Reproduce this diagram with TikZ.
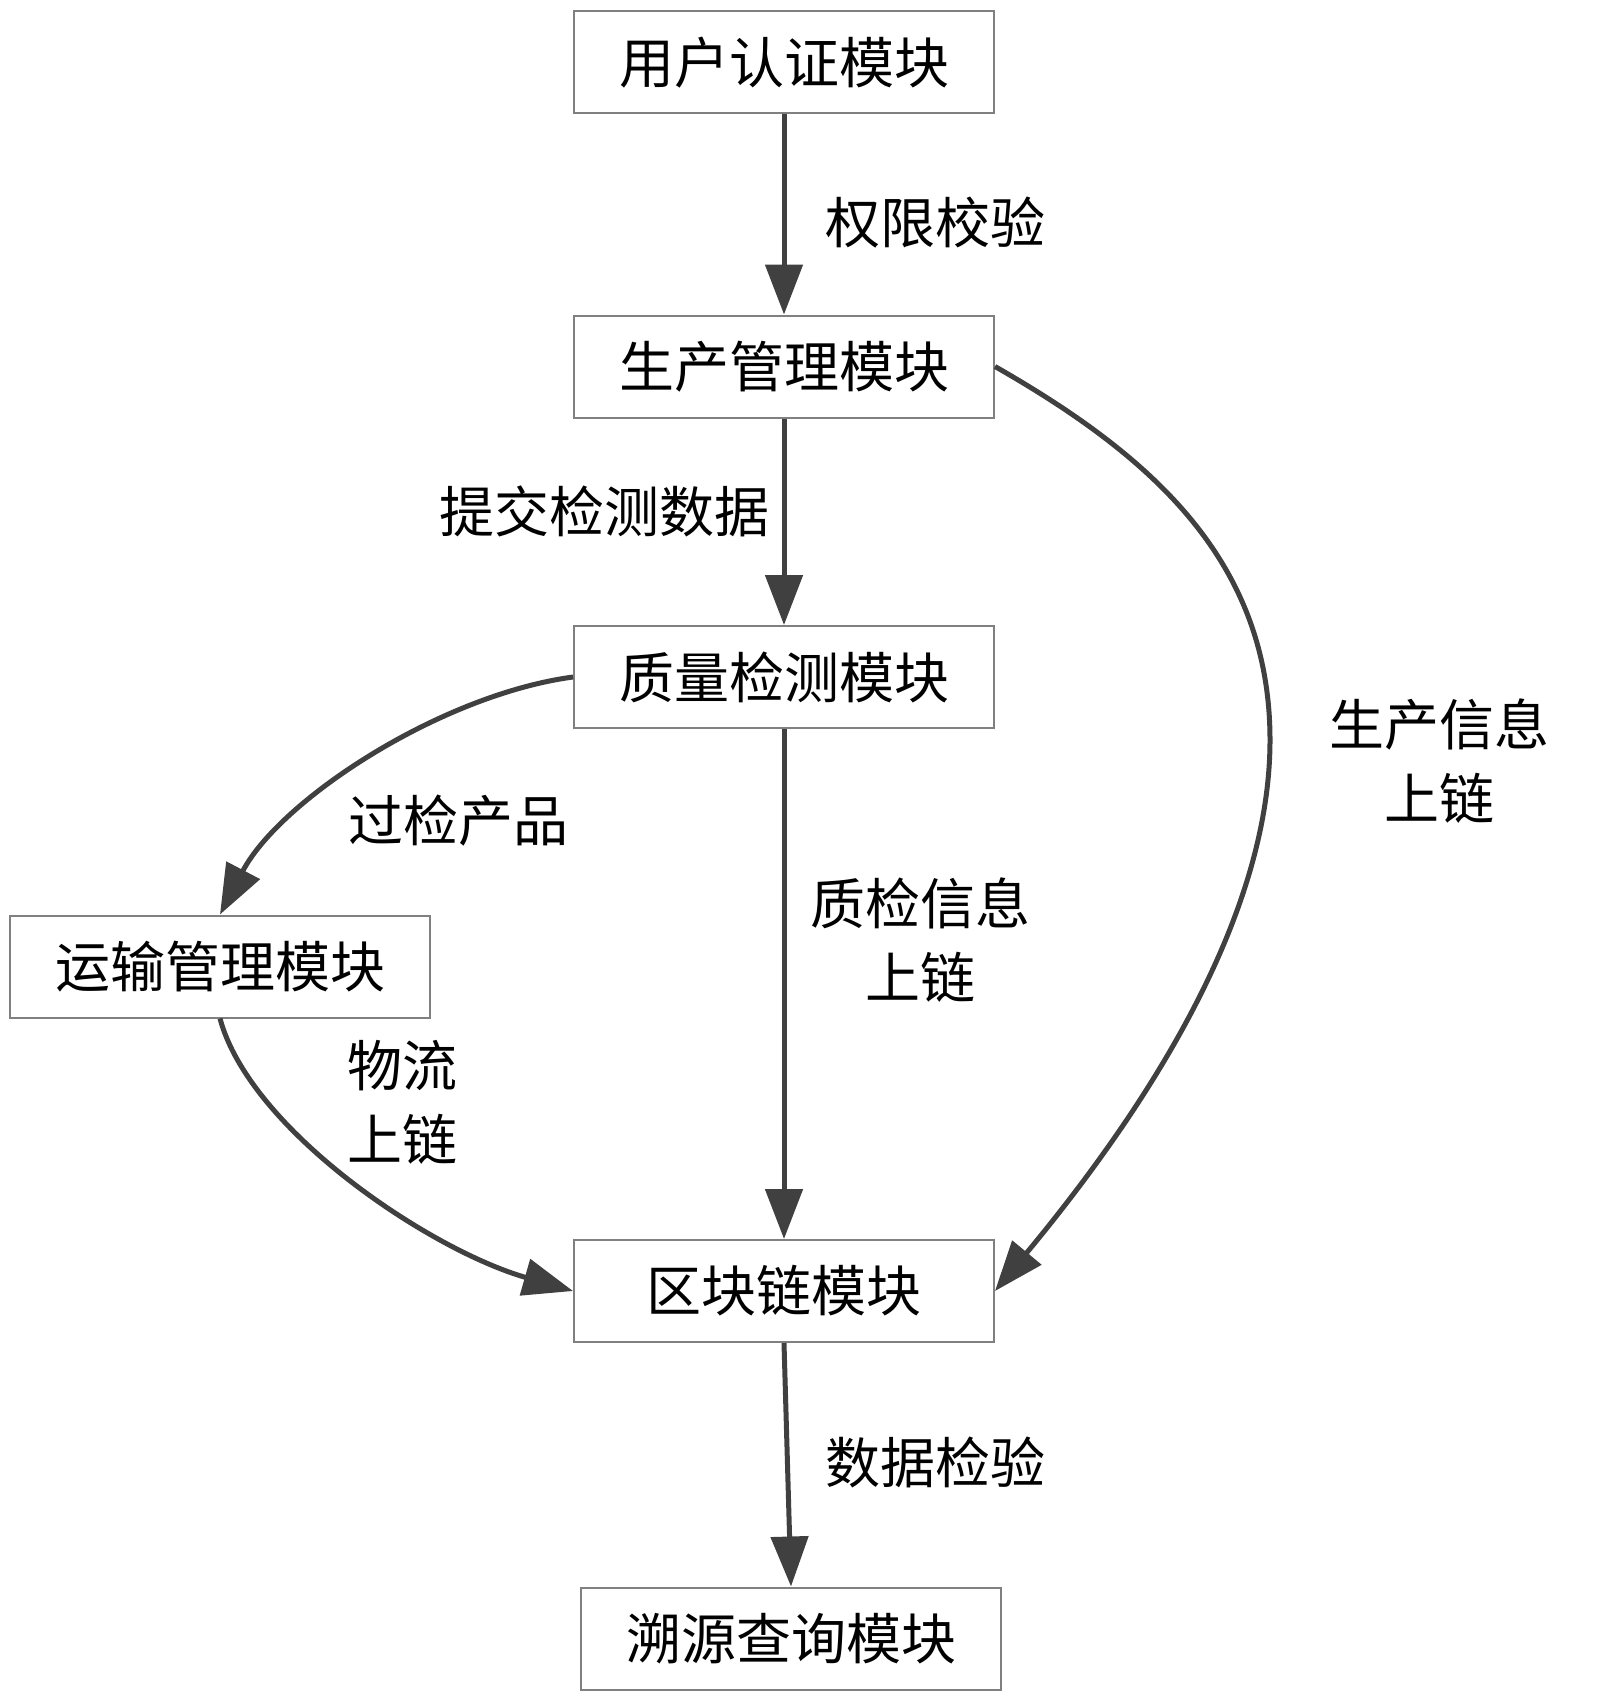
\documentclass[tikz,border=0pt]{standalone}
\usepackage{fontspec}
\newfontfamily\cjk{Noto Sans CJK SC}
\usetikzlibrary{arrows.meta}
\definecolor{linec}{HTML}{404040}
\definecolor{boxc}{HTML}{808080}
\tikzset{
  modbox/.style={draw=boxc, line width=2pt, fill=white, minimum width=420pt, minimum height=102pt, inner sep=0pt, font=\cjk\fontsize{55}{74}\selectfont},
  lbl/.style={inner sep=0pt, align=center, font=\cjk\fontsize{55}{74}\selectfont},
  conn/.style={draw=linec, line width=5pt, -{Triangle[length=50pt,width=37pt]}}
}
\begin{document}
\begin{tikzpicture}[x=1pt,y=-1pt]
\useasboundingbox (0,0) rectangle (1600,1704);
\node[modbox] (b1) at (784,62.5) {用户认证模块};
\node[modbox] (b2) at (784,366.5) {生产管理模块};
\node[modbox] (b3) at (784,677) {质量检测模块};
\node[modbox] (b4) at (220,966.5) {运输管理模块};
\node[modbox] (b5) at (784,1291) {区块链模块};
\node[modbox] (b6) at (791,1638.5) {溯源查询模块};

\coordinate (pr) at (1270,740);

\draw[conn] (b1.south) -- (b2.north);
\draw[conn] (b2.south) -- (b3.north);
\draw[conn] (b3.south) -- (b5.north);
\draw[conn] (b5.south) -- (b6.north);
\draw[conn] (b2.east) .. controls (1150,455) and (1270,560) .. (pr) .. controls (1270,900) and (1170,1080) .. (b5.east);
\draw[conn] (b3.west) .. controls (440,695) and (280,800) .. (b4.north);
\draw[conn] (b4.south) .. controls (250,1130) and (430,1250) .. (b5.west);

\node[lbl] (l1) at (935,223) {权限校验};
\node[lbl] (l2) at (604,511) {提交检测数据};
\node[lbl] (l3) at (458,821) {过检产品};
\node[lbl] (l4) at (920,940) {质检信息\\上链};
\node[lbl] (l5) at (1439,761) {生产信息\\上链};
\node[lbl] (l6) at (402,1102) {物流\\上链};
\node[lbl] (l7) at (935,1462) {数据检验};
\end{tikzpicture}
\end{document}
